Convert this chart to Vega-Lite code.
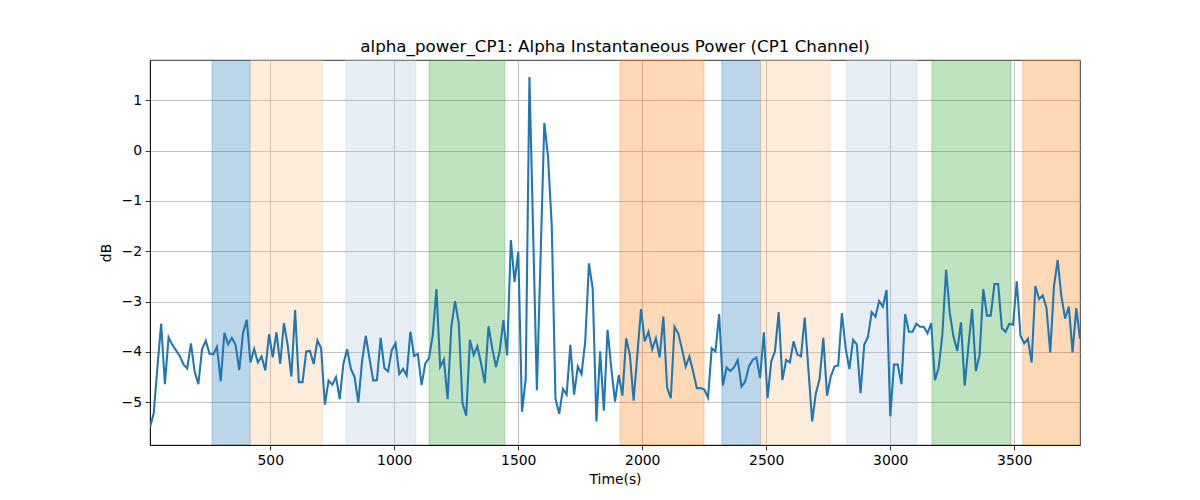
{
  "$schema": "https://vega.github.io/schema/vega-lite/v6.json",
  "width": 930,
  "height": 385,
  "autosize": "none",
  "padding": {"left": 150, "top": 60, "right": 120, "bottom": 55},
  "background": "white",
  "title": {
    "text": "alpha_power_CP1: Alpha Instantaneous Power (CP1 Channel)",
    "font": "DejaVu Sans",
    "fontSize": 16.7,
    "fontWeight": "normal",
    "color": "black",
    "anchor": "middle",
    "baseline": "bottom",
    "offset": 4,
    "dy": 17
  },
  "config": {
    "view": {"stroke": "black", "strokeWidth": 0.8},
    "axis": {
      "labelFont": "DejaVu Sans",
      "labelFontSize": 13.9,
      "labelColor": "black",
      "titleFont": "DejaVu Sans",
      "titleFontSize": 13.9,
      "titleFontWeight": "normal",
      "titleColor": "black",
      "domainColor": "black",
      "domainWidth": 0.8,
      "tickColor": "black",
      "tickWidth": 0.8,
      "tickSize": 4.9,
      "labelPadding": 3.5,
      "grid": true,
      "gridColor": "#b0b0b0",
      "gridWidth": 0.8
    }
  },
  "datasets": {
    "bands": [
      {"start": 265, "end": 419, "kind": "A"},
      {"start": 419, "end": 712, "kind": "B"},
      {"start": 805, "end": 1087, "kind": "C"},
      {"start": 1140, "end": 1446, "kind": "D"},
      {"start": 1910, "end": 2249, "kind": "E"},
      {"start": 2321, "end": 2477, "kind": "A"},
      {"start": 2477, "end": 2757, "kind": "B"},
      {"start": 2824, "end": 3108, "kind": "C"},
      {"start": 3168, "end": 3487, "kind": "D"},
      {"start": 3534, "end": 3800, "kind": "E"}
    ],
    "power": [
      {"t": 15, "db": -5.5}, {"t": 30, "db": -5.22}, {"t": 45, "db": -4.3}, {"t": 60, "db": -3.44}, {"t": 75, "db": -4.64},
      {"t": 90, "db": -3.71}, {"t": 105, "db": -3.86}, {"t": 120, "db": -3.97}, {"t": 135, "db": -4.08}, {"t": 150, "db": -4.25},
      {"t": 165, "db": -4.33}, {"t": 180, "db": -3.83}, {"t": 195, "db": -4.39}, {"t": 210, "db": -4.64}, {"t": 225, "db": -3.94},
      {"t": 240, "db": -3.78}, {"t": 255, "db": -4.04}, {"t": 270, "db": -4.05}, {"t": 285, "db": -3.9}, {"t": 300, "db": -4.58},
      {"t": 315, "db": -3.62}, {"t": 330, "db": -3.85}, {"t": 345, "db": -3.72}, {"t": 360, "db": -3.86}, {"t": 375, "db": -4.36},
      {"t": 390, "db": -3.63}, {"t": 405, "db": -3.36}, {"t": 420, "db": -4.21}, {"t": 435, "db": -3.94}, {"t": 450, "db": -4.21},
      {"t": 465, "db": -4.09}, {"t": 480, "db": -4.37}, {"t": 495, "db": -3.65}, {"t": 510, "db": -4.11}, {"t": 525, "db": -3.61},
      {"t": 540, "db": -4.24}, {"t": 555, "db": -3.43}, {"t": 570, "db": -3.86}, {"t": 585, "db": -4.49}, {"t": 600, "db": -3.17},
      {"t": 615, "db": -4.6}, {"t": 630, "db": -4.6}, {"t": 645, "db": -3.99}, {"t": 660, "db": -3.98}, {"t": 675, "db": -4.24},
      {"t": 690, "db": -3.77}, {"t": 705, "db": -3.93}, {"t": 720, "db": -5.05}, {"t": 735, "db": -4.57}, {"t": 750, "db": -4.65},
      {"t": 765, "db": -4.5}, {"t": 780, "db": -4.94}, {"t": 795, "db": -4.23}, {"t": 810, "db": -3.95}, {"t": 825, "db": -4.34},
      {"t": 840, "db": -4.5}, {"t": 855, "db": -5.01}, {"t": 870, "db": -4.19}, {"t": 885, "db": -3.68}, {"t": 900, "db": -4.13},
      {"t": 915, "db": -4.57}, {"t": 930, "db": -4.56}, {"t": 945, "db": -3.72}, {"t": 960, "db": -4.32}, {"t": 975, "db": -4.39},
      {"t": 990, "db": -3.96}, {"t": 1005, "db": -3.83}, {"t": 1020, "db": -4.44}, {"t": 1035, "db": -4.34}, {"t": 1050, "db": -4.47},
      {"t": 1065, "db": -3.6}, {"t": 1080, "db": -4.08}, {"t": 1095, "db": -4.04}, {"t": 1110, "db": -4.66}, {"t": 1125, "db": -4.23},
      {"t": 1140, "db": -4.13}, {"t": 1155, "db": -3.67}, {"t": 1170, "db": -2.75}, {"t": 1185, "db": -4.3}, {"t": 1200, "db": -4.15},
      {"t": 1215, "db": -4.94}, {"t": 1230, "db": -3.5}, {"t": 1245, "db": -2.99}, {"t": 1260, "db": -3.43}, {"t": 1275, "db": -5.02},
      {"t": 1290, "db": -5.27}, {"t": 1305, "db": -3.76}, {"t": 1320, "db": -4.06}, {"t": 1335, "db": -3.89}, {"t": 1350, "db": -4.23},
      {"t": 1365, "db": -4.62}, {"t": 1380, "db": -3.49}, {"t": 1395, "db": -3.93}, {"t": 1410, "db": -4.3}, {"t": 1425, "db": -3.99},
      {"t": 1440, "db": -3.37}, {"t": 1455, "db": -4.07}, {"t": 1470, "db": -1.78}, {"t": 1485, "db": -2.61}, {"t": 1500, "db": -2.01},
      {"t": 1515, "db": -5.19}, {"t": 1530, "db": -4.53}, {"t": 1545, "db": 1.46}, {"t": 1560, "db": -1.65}, {"t": 1575, "db": -4.76},
      {"t": 1590, "db": -2.1}, {"t": 1605, "db": 0.55}, {"t": 1620, "db": -0.12}, {"t": 1635, "db": -1.5}, {"t": 1650, "db": -4.93},
      {"t": 1665, "db": -5.23}, {"t": 1680, "db": -4.74}, {"t": 1695, "db": -4.85}, {"t": 1710, "db": -3.86}, {"t": 1725, "db": -4.85},
      {"t": 1740, "db": -4.29}, {"t": 1755, "db": -4.44}, {"t": 1770, "db": -3.79}, {"t": 1785, "db": -2.24}, {"t": 1800, "db": -2.74},
      {"t": 1815, "db": -5.38}, {"t": 1830, "db": -3.99}, {"t": 1845, "db": -5.17}, {"t": 1860, "db": -3.56}, {"t": 1875, "db": -4.32},
      {"t": 1890, "db": -4.99}, {"t": 1905, "db": -4.46}, {"t": 1920, "db": -4.87}, {"t": 1935, "db": -3.73}, {"t": 1950, "db": -4.06},
      {"t": 1965, "db": -4.97}, {"t": 1980, "db": -4.06}, {"t": 1995, "db": -3.15}, {"t": 2010, "db": -3.79}, {"t": 2025, "db": -3.6},
      {"t": 2040, "db": -3.95}, {"t": 2055, "db": -3.73}, {"t": 2070, "db": -4.11}, {"t": 2085, "db": -3.3}, {"t": 2100, "db": -4.71},
      {"t": 2115, "db": -4.92}, {"t": 2130, "db": -3.5}, {"t": 2145, "db": -3.63}, {"t": 2160, "db": -3.94}, {"t": 2175, "db": -4.29},
      {"t": 2190, "db": -4.09}, {"t": 2205, "db": -4.39}, {"t": 2220, "db": -4.72}, {"t": 2235, "db": -4.72}, {"t": 2250, "db": -4.75},
      {"t": 2265, "db": -4.91}, {"t": 2280, "db": -3.93}, {"t": 2295, "db": -3.99}, {"t": 2310, "db": -3.25}, {"t": 2325, "db": -4.67},
      {"t": 2340, "db": -4.31}, {"t": 2355, "db": -4.38}, {"t": 2370, "db": -4.31}, {"t": 2385, "db": -4.16}, {"t": 2400, "db": -4.69},
      {"t": 2415, "db": -4.59}, {"t": 2430, "db": -4.29}, {"t": 2445, "db": -4.16}, {"t": 2460, "db": -4.11}, {"t": 2475, "db": -4.52},
      {"t": 2490, "db": -3.61}, {"t": 2505, "db": -4.92}, {"t": 2520, "db": -4.19}, {"t": 2535, "db": -3.99}, {"t": 2550, "db": -3.21},
      {"t": 2565, "db": -4.56}, {"t": 2580, "db": -4.16}, {"t": 2595, "db": -4.21}, {"t": 2610, "db": -3.79}, {"t": 2625, "db": -4.05},
      {"t": 2640, "db": -4.09}, {"t": 2655, "db": -3.32}, {"t": 2670, "db": -4.36}, {"t": 2685, "db": -5.38}, {"t": 2700, "db": -4.82},
      {"t": 2715, "db": -4.54}, {"t": 2730, "db": -3.72}, {"t": 2745, "db": -4.87}, {"t": 2760, "db": -4.49}, {"t": 2775, "db": -4.29},
      {"t": 2790, "db": -4.27}, {"t": 2805, "db": -3.23}, {"t": 2820, "db": -3.93}, {"t": 2835, "db": -4.34}, {"t": 2850, "db": -3.76},
      {"t": 2865, "db": -3.85}, {"t": 2880, "db": -4.82}, {"t": 2895, "db": -3.86}, {"t": 2910, "db": -3.7}, {"t": 2925, "db": -3.21},
      {"t": 2940, "db": -3.3}, {"t": 2955, "db": -2.99}, {"t": 2970, "db": -3.1}, {"t": 2985, "db": -2.77}, {"t": 3000, "db": -5.28},
      {"t": 3015, "db": -4.25}, {"t": 3030, "db": -4.25}, {"t": 3045, "db": -4.64}, {"t": 3060, "db": -3.25}, {"t": 3075, "db": -3.6},
      {"t": 3090, "db": -3.6}, {"t": 3105, "db": -3.44}, {"t": 3120, "db": -3.5}, {"t": 3135, "db": -3.5}, {"t": 3150, "db": -3.63},
      {"t": 3165, "db": -3.43}, {"t": 3180, "db": -4.56}, {"t": 3195, "db": -4.32}, {"t": 3210, "db": -3.66}, {"t": 3225, "db": -2.37},
      {"t": 3240, "db": -3.23}, {"t": 3255, "db": -3.7}, {"t": 3270, "db": -3.98}, {"t": 3285, "db": -3.41}, {"t": 3300, "db": -4.67},
      {"t": 3315, "db": -3.89}, {"t": 3330, "db": -3.15}, {"t": 3345, "db": -4.38}, {"t": 3360, "db": -4.07}, {"t": 3375, "db": -2.75},
      {"t": 3390, "db": -3.28}, {"t": 3405, "db": -3.28}, {"t": 3420, "db": -2.65}, {"t": 3435, "db": -2.65}, {"t": 3450, "db": -3.53},
      {"t": 3465, "db": -3.6}, {"t": 3480, "db": -3.44}, {"t": 3495, "db": -3.46}, {"t": 3510, "db": -2.6}, {"t": 3525, "db": -3.68},
      {"t": 3540, "db": -3.83}, {"t": 3555, "db": -3.74}, {"t": 3570, "db": -4.21}, {"t": 3585, "db": -2.69}, {"t": 3600, "db": -2.95},
      {"t": 3615, "db": -2.88}, {"t": 3630, "db": -3.13}, {"t": 3645, "db": -4.01}, {"t": 3660, "db": -2.7}, {"t": 3675, "db": -2.17},
      {"t": 3690, "db": -2.9}, {"t": 3705, "db": -3.34}, {"t": 3720, "db": -3.1}, {"t": 3735, "db": -4.01}, {"t": 3750, "db": -3.13},
      {"t": 3765, "db": -3.74}
    ]
  },
  "layer": [
    {
      "data": {"name": "bands"},
      "mark": {"type": "rect", "clip": true, "fillOpacity": 0.3, "strokeOpacity": 0.3, "strokeWidth": 1},
      "encoding": {
        "x": {"field": "start", "type": "quantitative", "scale": {"domain": [15, 3765], "nice": false, "zero": false}},
        "x2": {"field": "end"},
        "fill": {"field": "kind", "type": "nominal", "legend": null,
          "scale": {"domain": ["A", "B", "C", "D", "E"], "range": ["#1f77b4", "#ffbf87", "#b0c4de", "#2ca02c", "#ff7f0e"]}},
        "stroke": {"field": "kind", "type": "nominal", "legend": null,
          "scale": {"domain": ["A", "B", "C", "D", "E"], "range": ["#1f77b4", "#ffbf87", "#b0c4de", "#2ca02c", "#ff7f0e"]}}
      }
    },
    {
      "data": {"name": "power"},
      "mark": {"type": "line", "color": "#1f77b4", "strokeWidth": 2.08, "clip": true},
      "encoding": {
        "x": {"field": "t", "type": "quantitative",
          "scale": {"domain": [15, 3765], "nice": false, "zero": false},
          "axis": {"title": "Time(s)", "values": [500, 1000, 1500, 2000, 2500, 3000, 3500], "format": "d", "titlePadding": 5}},
        "y": {"field": "db", "type": "quantitative",
          "scale": {"domain": [-5.85, 1.8], "nice": false, "zero": false},
          "axis": {"title": "dB", "values": [-5, -4, -3, -2, -1, 0, 1], "format": "d", "titlePadding": 8}}
      }
    }
  ]
}
